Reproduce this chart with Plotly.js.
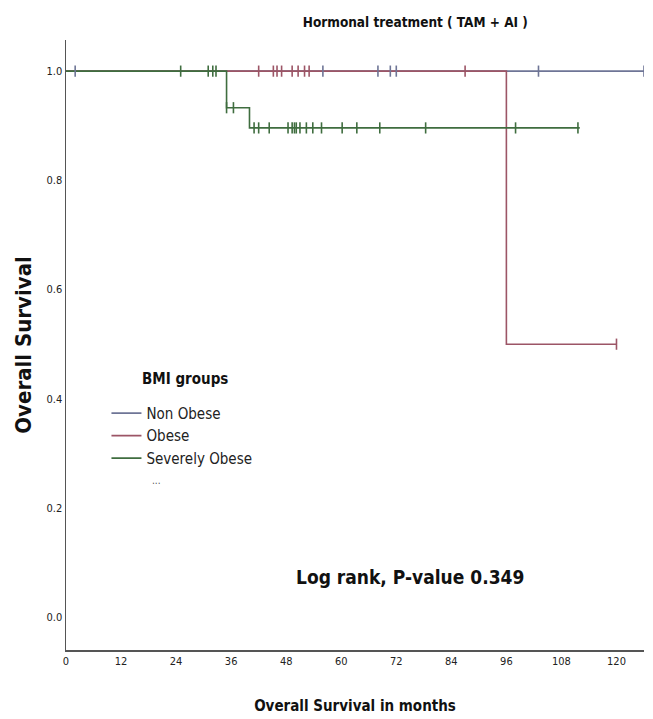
<!DOCTYPE html>
<html><head><meta charset="utf-8">
<script src="https://cdn.plot.ly/plotly-3.0.1.min.js"></script>
<style>html,body{margin:0;padding:0;background:#fff}#chart{width:653px;height:719px}</style>
</head><body><div id="chart"></div>
<script>
// Kaplan-Meier step data (months, survival)
const groupNames = ["Non Obese", "Obese", "Severely Obese"];
const nonObeseTimes = [0, 126];
const nonObeseSurv = [1.0, 1.0];
const obeseTimes = [0, 96, 120];
const obeseSurv = [1.0, 0.5, 0.5];
const sevObeseTimes = [0, 35, 40, 112];
const sevObeseSurv = [1.0, 0.933, 0.896, 0.896];
// censored observations (months)
const nonObeseCensor = [2, 56, 68, 70.7, 72, 103, 126];
const obeseCensor = [42, 45.2, 46, 47, 49.3, 50.6, 52, 53, 87, 120];
const sevObeseCensor = [25, 31, 32, 32.7, 35, 36.5, 41, 42, 44.3, 48.4, 49.3, 49.8, 50.2, 51, 52.4, 53.8, 55.7, 60.2, 63.4, 68.4, 78.4, 98, 111.6];
const xTicks = [0, 12, 24, 36, 48, 60, 72, 84, 96, 108, 120];
const yTicks = [0, 0.2, 0.4, 0.6, 0.8, 1.0];
const colors = ["#6e7596", "#9c5566", "#3f6d3f"];

function survAt(times, surv, t) {
  let s = surv[0];
  for (let i = 0; i < times.length; i++) { if (times[i] <= t) s = surv[i]; }
  return s;
}
const groups = [
  [nonObeseTimes, nonObeseSurv, nonObeseCensor],
  [obeseTimes, obeseSurv, obeseCensor],
  [sevObeseTimes, sevObeseSurv, sevObeseCensor]
];
const narrow = "Liberation Sans Narrow, DejaVu Sans Condensed, Arial Narrow, sans-serif";
const traces = [];
groups.forEach((g, i) => {
  traces.push({x: g[0], y: g[1], type: "scatter", mode: "lines", name: groupNames[i],
    line: {shape: "hv", color: colors[i], width: 1.6}, hoverinfo: "skip"});
});
groups.forEach((g, i) => {
  traces.push({x: g[2], y: g[2].map(t => survAt(g[0], g[1], t)), type: "scatter", mode: "markers",
    showlegend: false, hoverinfo: "skip",
    marker: {symbol: "line-ns", size: 8, color: colors[i], line: {color: colors[i], width: 1.6}}});
});

const layout = {
  width: 653, height: 719,
  margin: {l: 66, r: 9, t: 40, b: 69},
  paper_bgcolor: "#fff", plot_bgcolor: "#fff",
  title: {text: "<b>Hormonal treatment ( TAM + AI )</b>", x: 0.636, xanchor: "center", y: 0.969, yanchor: "middle",
    font: {family: narrow, size: 13.5, color: "#111"}},
  xaxis: {range: [0, 126], tickvals: xTicks, ticktext: xTicks.map(String), showgrid: false, zeroline: false,
    showline: true, linecolor: "#555", linewidth: 1.5, ticks: "", tickfont: {family: narrow, size: 11, color: "#222"},
    title: {text: "<b>Overall Survival in months</b>", font: {family: narrow, size: 15, color: "#111"}, standoff: 34}},
  yaxis: {range: [-0.06, 1.057], tickvals: yTicks, ticktext: yTicks.map(v => v.toFixed(1)), showgrid: false, zeroline: false,
    showline: true, linecolor: "#555", linewidth: 1.5, ticks: "", tickfont: {family: narrow, size: 11, color: "#222"},
    title: {text: "<b>Overall Survival</b>", font: {family: narrow, size: 22, color: "#111"}, standoff: 9}},
  showlegend: true,
  legend: {x: 0.07, y: 0.415, xanchor: "left", yanchor: "top", bgcolor: "rgba(0,0,0,0)",
    font: {family: narrow, size: 15, color: "#222"}, itemwidth: 30, tracegroupgap: 0},
  annotations: [
    {x: 0.128, y: 0.427, xref: "paper", yref: "paper", xanchor: "left", yanchor: "bottom", text: "<b>BMI groups</b>", showarrow: false,
      font: {family: narrow, size: 15, color: "#111"}},
    {x: 75, y: 0.073, xref: "x", yref: "y", text: "<b>Log rank, P-value 0.349</b>", showarrow: false,
      font: {family: narrow, size: 19, color: "#111"}},
    {x: 0.145, y: 0.265, xref: "paper", yref: "paper", text: "...", showarrow: false,
      font: {family: narrow, size: 10, color: "#555"}}
  ]
};
Plotly.newPlot("chart", traces, layout, {displayModeBar: false, staticPlot: true});
</script></body></html>
